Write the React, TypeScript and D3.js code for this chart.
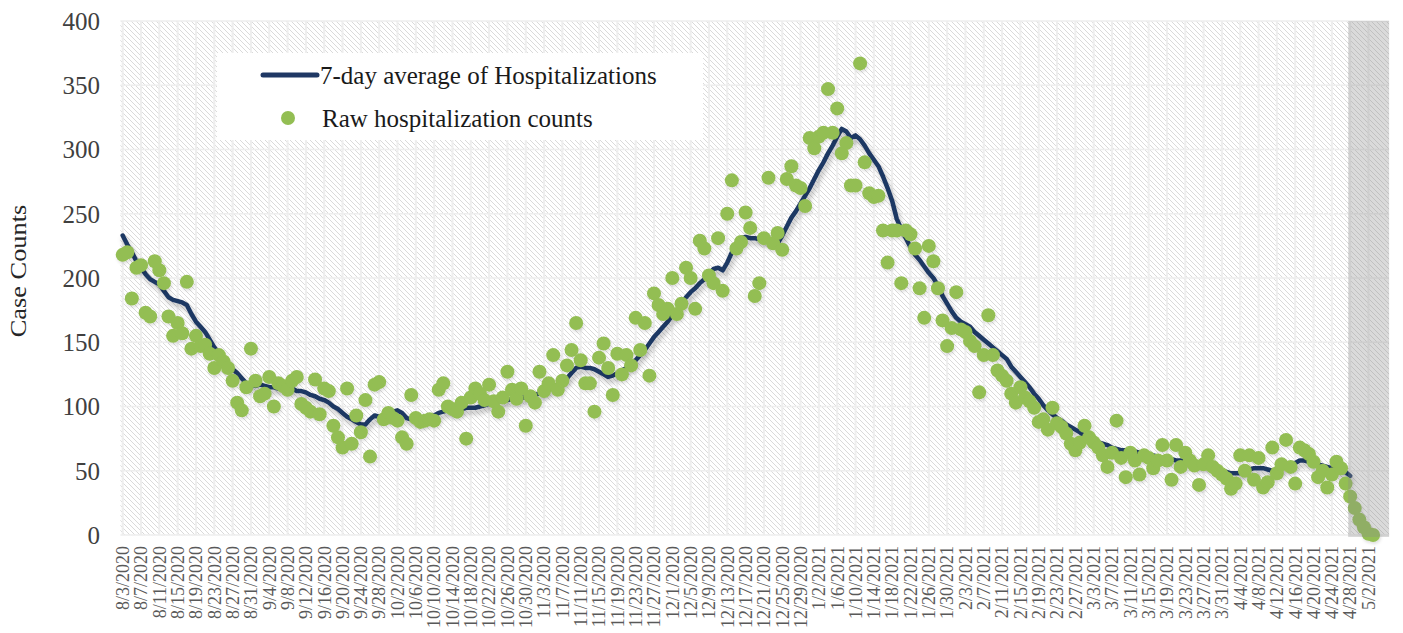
import * as d3 from 'd3';

// one entry per day starting 8/3/2020
const tickLabels = [
  '8/3/2020', '8/7/2020', '8/11/2020', '8/15/2020', '8/19/2020', '8/23/2020', '8/27/2020', '8/31/2020',
  '9/4/2020', '9/8/2020', '9/12/2020', '9/16/2020', '9/20/2020', '9/24/2020', '9/28/2020', '10/2/2020',
  '10/6/2020', '10/10/2020', '10/14/2020', '10/18/2020', '10/22/2020', '10/26/2020', '10/30/2020', '11/3/2020',
  '11/7/2020', '11/11/2020', '11/15/2020', '11/19/2020', '11/23/2020', '11/27/2020', '12/1/2020', '12/5/2020',
  '12/9/2020', '12/13/2020', '12/17/2020', '12/21/2020', '12/25/2020', '12/29/2020', '1/2/2021', '1/6/2021',
  '1/10/2021', '1/14/2021', '1/18/2021', '1/22/2021', '1/26/2021', '1/30/2021', '2/3/2021', '2/7/2021',
  '2/11/2021', '2/15/2021', '2/19/2021', '2/23/2021', '2/27/2021', '3/3/2021', '3/7/2021', '3/11/2021',
  '3/15/2021', '3/19/2021', '3/23/2021', '3/27/2021', '3/31/2021', '4/4/2021', '4/8/2021', '4/12/2021',
  '4/16/2021', '4/20/2021', '4/24/2021', '4/28/2021', '5/2/2021',
];
const tickStep = 4;
const dayCount = 277;

const rawCounts = [
  218, 220, 184, 208, 210, 173, 170, 213, 206, 196,
  170, 155, 165, 157, 197, 145, 155, 147, 148, 141,
  130, 140, 135, 130, 120, 103, 97, 115, 145, 120,
  108, 110, 123, 100, 118, 116, 113, 120, 123, 102,
  99, 96, 121, 94, 114, 112, 85, 76, 68, 114,
  71, 93, 80, 105, 61, 117, 119, 90, 95, 91,
  89, 76, 71, 109, 91, 88, 89, 90, 89, 113,
  118, 100, 98, 96, 103, 75, 107, 114, 110, 105,
  117, 104, 96, 107, 127, 113, 106, 114, 85, 108,
  103, 127, 112, 118, 140, 113, 120, 132, 144, 165,
  136, 118, 118, 96, 138, 149, 130, 109, 141, 125,
  140, 132, 169, 144, 165, 124, 188, 179, 172, 176,
  200, 172, 180, 208, 200, 176, 229, 223, 202, 196,
  231, 190, 250, 276, 223, 228, 251, 239, 186, 196,
  231, 278, 227, 235, 222, 277, 287, 272, 270, 256,
  309, 301, 310, 313, 347, 313, 332, 297, 305, 272,
  272, 367, 290, 266, 263, 264, 237, 212, 237, 237,
  196, 237, 234, 223, 192, 169, 225, 213, 192, 167,
  147, 161, 189, 160, 158, 151, 147, 111, 140, 171,
  140, 128, 124, 120, 110, 103, 115, 107, 104, 99,
  88, 90, 82, 99, 87, 84, 79, 71, 66, 72,
  85, 76, 72, 68, 62, 53, 64, 89, 60, 45,
  64, 58, 47, 62, 60, 52, 58, 70, 58, 43,
  70, 53, 64, 58, 54, 39, 55, 62, 53, 50,
  47, 44, 36, 40, 62, 50, 62, 43, 60, 37,
  41, 68, 48, 55, 74, 53, 40, 68, 66, 63,
  57, 45, 50, 37, 47, 57, 52, 40, 30, 21,
  12, 6, 1, 0,
];

const avgCounts = [
  233, 226, 220, 213, 208, 203, 199, 197, 195, 190,
  185, 183, 182, 181, 179, 172, 166, 162, 158, 152,
  146, 141, 137, 133, 129, 126, 122, 118, 117, 116,
  117, 116, 115, 115, 114, 115, 114, 114, 112, 112,
  111, 109, 108, 106, 105, 103, 100, 98, 95, 92,
  90, 88, 86, 86, 90, 93, 92, 93, 95, 96,
  97, 95, 91, 90, 90, 89, 90, 91, 93, 95,
  96, 97, 97, 98, 98, 99, 99, 99, 100, 101,
  102, 103, 104, 104, 105, 106, 106, 107, 107, 108,
  109, 110, 111, 113, 115, 117, 119, 122, 126, 130,
  131, 130, 130, 129, 127, 125, 123, 124, 126, 128,
  130, 133, 136, 140, 144, 149, 154, 158, 162, 166,
  171, 175, 180, 185, 189, 192, 196, 199, 203, 207,
  208, 206, 212, 220, 226, 231, 232, 231, 231, 230,
  230, 229, 228, 227, 233, 240, 247, 252, 258, 264,
  270, 277, 284, 290, 297, 303, 310, 316, 314, 309,
  311, 308, 303, 297, 292, 287, 279, 270, 260, 246,
  238, 231, 224, 218, 214, 209, 204, 200, 194, 186,
  180, 174, 169, 166, 164, 162, 158, 155, 152, 149,
  146, 143, 140, 137, 131, 127, 123, 119, 115, 110,
  106, 101, 97, 94, 91, 89, 86, 84, 82, 80,
  77, 76, 74, 72, 71, 70, 68, 67, 66, 66,
  65, 65, 64, 63, 63, 62, 61, 60, 60, 59,
  58, 58, 57, 57, 56, 55, 55, 54, 52, 51,
  50, 49, 48, 48, 48, 50, 51, 52, 52, 52,
  51, 50, 50, 52, 54, 54, 56, 58, 58, 57,
  56, 55, 54, 53, 52, 50, 49, 49, 46,
];

const yTicks = [0, 50, 100, 150, 200, 250, 300, 350, 400];
const shadeStartDay = 268;

const serif = "'Liberation Serif', 'Times New Roman', serif";
const navy = '#1f3864';
const green = '#93be53';

export default function App() {
  const width = 1403;
  const height = 633;
  const x = d3.scaleLinear().domain([-0.5, dayCount - 0.5]).range([120.4, 1389.1]);
  const y = d3.scaleLinear().domain([0, 400]).range([535, 21]);
  const [x0, x1] = x.range();
  const [yb, yt] = y.range();

  const line = d3.line<number>()
    .x((_, i) => x(i))
    .y(d => y(d));

  return (
    <svg width={width} height={height} style={{ position: 'absolute', left: 0, top: 0, background: '#fff' }}>
      <defs>
        <pattern id="hatch" patternUnits="userSpaceOnUse" width="5" height="5">
          <path d="M-1,-1 L6,6 M-1,4 L1,6 M4,-1 L6,1" stroke="#dadada" strokeWidth="1" />
        </pattern>
        <filter id="shadow" x="-5%" y="-5%" width="110%" height="115%">
          <feDropShadow dx="2" dy="4" stdDeviation="2.5" floodColor="#000" floodOpacity="0.25" />
        </filter>
        <filter id="dotShadow" x="-5%" y="-5%" width="110%" height="115%">
          <feDropShadow dx="1" dy="2" stdDeviation="1.5" floodColor="#000" floodOpacity="0.12" />
        </filter>
      </defs>

      <rect x={x0} y={yt} width={x1 - x0} height={yb - yt} fill="#fff" />
      <rect x={x0} y={yt} width={x1 - x0} height={yb - yt} fill="url(#hatch)" />

      {yTicks.map(t => (
        <line key={'h' + t} x1={x0} x2={x1} y1={y(t)} y2={y(t)} stroke="#eeeeee" strokeWidth={1.5} />
      ))}
      {tickLabels.map((_, k) => (
        <line key={'v' + k} x1={x(k * tickStep)} x2={x(k * tickStep)} y1={yt} y2={yb} stroke="#eeeeee" strokeWidth={2} />
      ))}

      <path d={line(avgCounts) || ''} fill="none" stroke={navy} strokeWidth={4.5}
        strokeLinejoin="round" strokeLinecap="round" filter="url(#shadow)" />

      <g filter="url(#dotShadow)">
        {rawCounts.map((v, i) => (
          <circle key={i} cx={x(i)} cy={y(v)} r={7} fill={green} />
        ))}
      </g>

      <rect x={x(shadeStartDay) - 2} y={yt} width={x1 - x(shadeStartDay) + 2} height={yb - yt + 2}
        fill="#8c8c8c" opacity={0.32} />

      {yTicks.map(t => (
        <text key={'yl' + t} x={100} y={y(t)} dy="0.35em" textAnchor="end"
          fontFamily={serif} fontSize={25} fill="#404040">{t}</text>
      ))}

      {tickLabels.map((lab, k) => (
        <text key={'xl' + k} transform={`translate(${x(k * tickStep)},546) rotate(-90)`}
          dy="0.35em" textAnchor="end" fontFamily={serif} fontSize={18} fill="#595959">{lab}</text>
      ))}

      <text transform="translate(18,271) rotate(-90) scale(1.1,1)" textAnchor="middle" dy="0.35em"
        fontFamily={serif} fontSize={24} fill="#262626">Case Counts</text>

      <g>
        <rect x={217} y={53} width={486} height={87} fill="#fff" />
        <line x1={263} x2={317} y1={75} y2={75} stroke={navy} strokeWidth={5} strokeLinecap="round" />
        <text x={320} y={75} dy="0.35em" fontFamily={serif} fontSize={25} fill="#1a1a1a">7-day average of Hospitalizations</text>
        <circle cx={288} cy={118} r={7} fill={green} />
        <text x={322} y={118} dy="0.35em" fontFamily={serif} fontSize={25} fill="#1a1a1a">Raw hospitalization counts</text>
      </g>
    </svg>
  );
}
